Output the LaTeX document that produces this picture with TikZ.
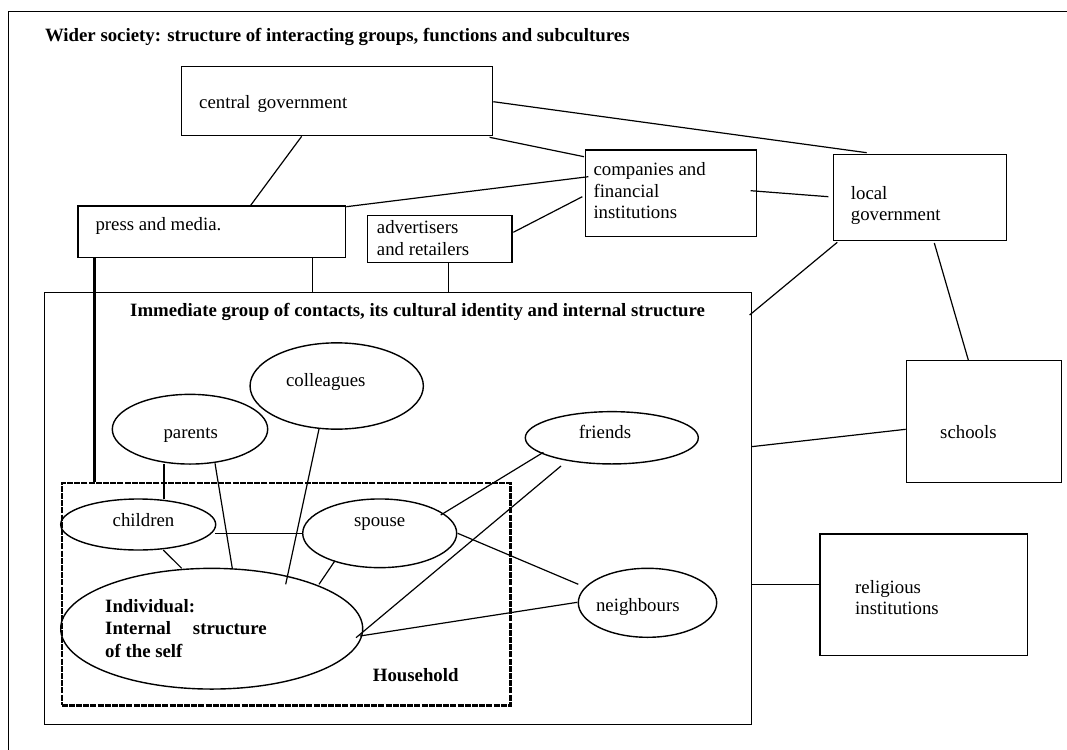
\documentclass[tikz,border=0pt]{standalone}
\usepackage{fontspec}
\setmainfont{Liberation Serif}
\usetikzlibrary{shapes.geometric}
\begin{document}
\begin{tikzpicture}[x=1pt,y=-1pt,
  box/.style={draw, rectangle, line width=1.3pt, inner sep=0pt, anchor=north west},
  hhbox/.style={draw, rectangle, line width=2.2pt, dash pattern=on 6pt off 1.2pt, inner sep=0pt, anchor=north west},
  oval/.style={draw, ellipse, line width=1.4pt, inner sep=0pt},
  link/.style={line width=1.2pt},
  heavy/.style={line width=2.8pt},
  txt/.style={inner sep=0pt, align=left, font=\fontsize{18.8}{21.7}\selectfont},
  btxt/.style={inner sep=0pt, align=left, font=\fontsize{18.8}{22.5}\selectfont\bfseries},
]
\useasboundingbox (0,0) rectangle (1067,749);
\clip (0,0) rectangle (1067,749);

% outer frame of the wider society
\draw[line width=1.6pt] (8.5,790) -- (8.5,11.7) -- (1100,11.7);
\node[btxt, anchor=base west] (title) at (44.8,41.7)
  {Wider society: structure of interacting groups, functions and subcultures};

% institutions
\node[box, minimum width=311pt, minimum height=69pt] (cg) at (181,66) {};
\node[txt, anchor=base west] (cgT) at (199,109) {central\hspace{2.5pt} government};

\node[box, minimum width=267.4pt, minimum height=51.4pt] (press) at (77.3,205.3) {};
\node[txt, anchor=base west] (pressT) at (95.3,230.7) {press and media.};

\node[box, minimum width=144.6pt, minimum height=46.7pt] (adv) at (366.7,215) {};
\node[txt, anchor=north west] (advT) at (376.7,220.5) {advertisers\\and retailers};

\node[box, minimum width=171pt, minimum height=86.7pt] (comp) at (585,149.3) {};
\node[txt, anchor=north west] (compT) at (593.3,162.2) {companies and\\financial\\institutions};

\node[box, minimum width=173pt, minimum height=86pt] (lg) at (832.7,154) {};
\node[txt, anchor=north west, font=\fontsize{18.8}{21}\selectfont] (lgT) at (850.7,186.2) {local\\government};

\node[box, minimum width=155pt, minimum height=121.7pt] (sch) at (906,360) {};
\node[txt, anchor=base west] (schT) at (940,438.3) {schools};

\node[box, minimum width=207.4pt, minimum height=121.7pt] (rel) at (819.3,533.3) {};
\node[txt, anchor=north west, font=\fontsize{18.8}{20.7}\selectfont] (relT) at (855,580.5) {religious\\institutions};

% immediate group and household
\node[box, minimum width=707.5pt, minimum height=432pt] (imm) at (43.5,292) {};
\node[btxt, anchor=base west] (immT) at (130,316.7)
  {Immediate group of contacts, its cultural identity and internal structure};

\node[hhbox, minimum width=448.8pt, minimum height=222.6pt] (house) at (60.5,481.7) {};
\node[btxt, anchor=base west] (houseT) at (372.7,681) {Household};

% contacts
\node[oval, minimum width=173.3pt, minimum height=86.3pt] (coll) at (336.7,386) {};
\node[txt, anchor=base] (collT) at (325.8,386) {colleagues};

\node[oval, minimum width=155.4pt, minimum height=69.7pt] (par) at (190,429.2) {};
\node[txt, anchor=base] (parT) at (190.7,438.3) {parents};

\node[oval, minimum width=155pt, minimum height=51pt] (chi) at (138.2,524.5) {};
\node[txt, anchor=base] (chiT) at (143.5,526) {children};

\node[oval, minimum width=154pt, minimum height=68.7pt] (sp) at (379.7,533.3) {};
\node[txt, anchor=base] (spT) at (379.7,526) {spouse};

\node[oval, minimum width=173pt, minimum height=52.3pt] (fr) at (611.8,437.8) {};
\node[txt, anchor=base] (frT) at (605,438.3) {friends};

\node[oval, minimum width=138.4pt, minimum height=69pt] (nb) at (647.5,602.8) {};
\node[txt, anchor=base] (nbT) at (637.8,611.7) {neighbours};

\node[oval, minimum width=302pt, minimum height=120.7pt] (ind) at (211.7,628.7) {};
\node[btxt, anchor=north west] (indT) at (105,599)
  {Individual:\\Internal\hspace{22pt}structure\\of the self};

% links between institutions
\draw[link] ([shift={(120.7,0)}]cg.south west) -- ([shift={(173.4,0)}]press.north west);
\draw[link] ([shift={(0,35.7)}]cg.north east) -- ([shift={(34,-1.3)}]lg.north west);
\draw[link] ([shift={(-3.7,1)}]cg.south east) -- ([shift={(-1,7.4)}]comp.north west);
\draw[link] ([shift={(0.3,1.4)}]press.north east) -- ([shift={(3.3,27.4)}]comp.north west);
\draw[link] ([shift={(0.7,17.3)}]adv.north east) -- ([shift={(-2.7,47.4)}]comp.north west);
\draw[link] ([shift={(-6.7,41.4)}]comp.north east) -- ([shift={(-4.4,42.7)}]lg.north west);
\draw[link] ([shift={(4.6,1)}]lg.south west) -- ([shift={(-2.7,23)}]imm.north east);
\draw[link] ([shift={(101.6,1.7)}]lg.south west) -- ([shift={(62.3,0)}]sch.north west);
\draw[link] ([shift={(235.4,0)}]press.south west) -- ([shift={(269.2,0)}]imm.north west);
\draw[link] ([shift={(82,0)}]adv.south west) -- ([shift={(405.2,0)}]imm.north west);
\draw[heavy] ([shift={(17.4,0)}]press.south west) -- ([shift={(34.2,0)}]house.north west);
\draw[link] ([shift={(-1,154.7)}]imm.north east) -- ([shift={(-0.3,69.3)}]sch.north west);
\draw[link] ([shift={(-1,292.3)}]imm.north east) -- ([shift={(0,51)}]rel.north west);

% links between contacts
\draw[link] ([shift={(-26,34.8)}]par.center) -- ([shift={(25.8,-25.2)}]chi.center);
\draw[link] ([shift={(25,34.1)}]par.center) -- ([shift={(20.6,-60.4)}]ind.center);
\draw[link] ([shift={(-17.7,43)}]coll.center) -- ([shift={(74,-44.4)}]ind.center);
\draw[link] ([shift={(76.8,8.8)}]chi.center) -- ([shift={(-76.4,0)}]sp.center);
\draw[link] ([shift={(25.1,25.5)}]chi.center) -- ([shift={(-30,-60.4)}]ind.center);
\draw[link] ([shift={(-44.7,27.4)}]sp.center) -- ([shift={(107.3,-44.4)}]ind.center);
\draw[link] ([shift={(61,-18.3)}]sp.center) -- ([shift={(-68.4,14.5)}]fr.center);
\draw[link] ([shift={(78,0)}]sp.center) -- ([shift={(-69.2,-18.5)}]nb.center);
\draw[link] ([shift={(144.3,9)}]ind.center) -- ([shift={(-50.8,28.2)}]fr.center);
\draw[link] ([shift={(148.3,7.3)}]ind.center) -- ([shift={(-70.2,-0.5)}]nb.center);
\end{tikzpicture}
\end{document}
